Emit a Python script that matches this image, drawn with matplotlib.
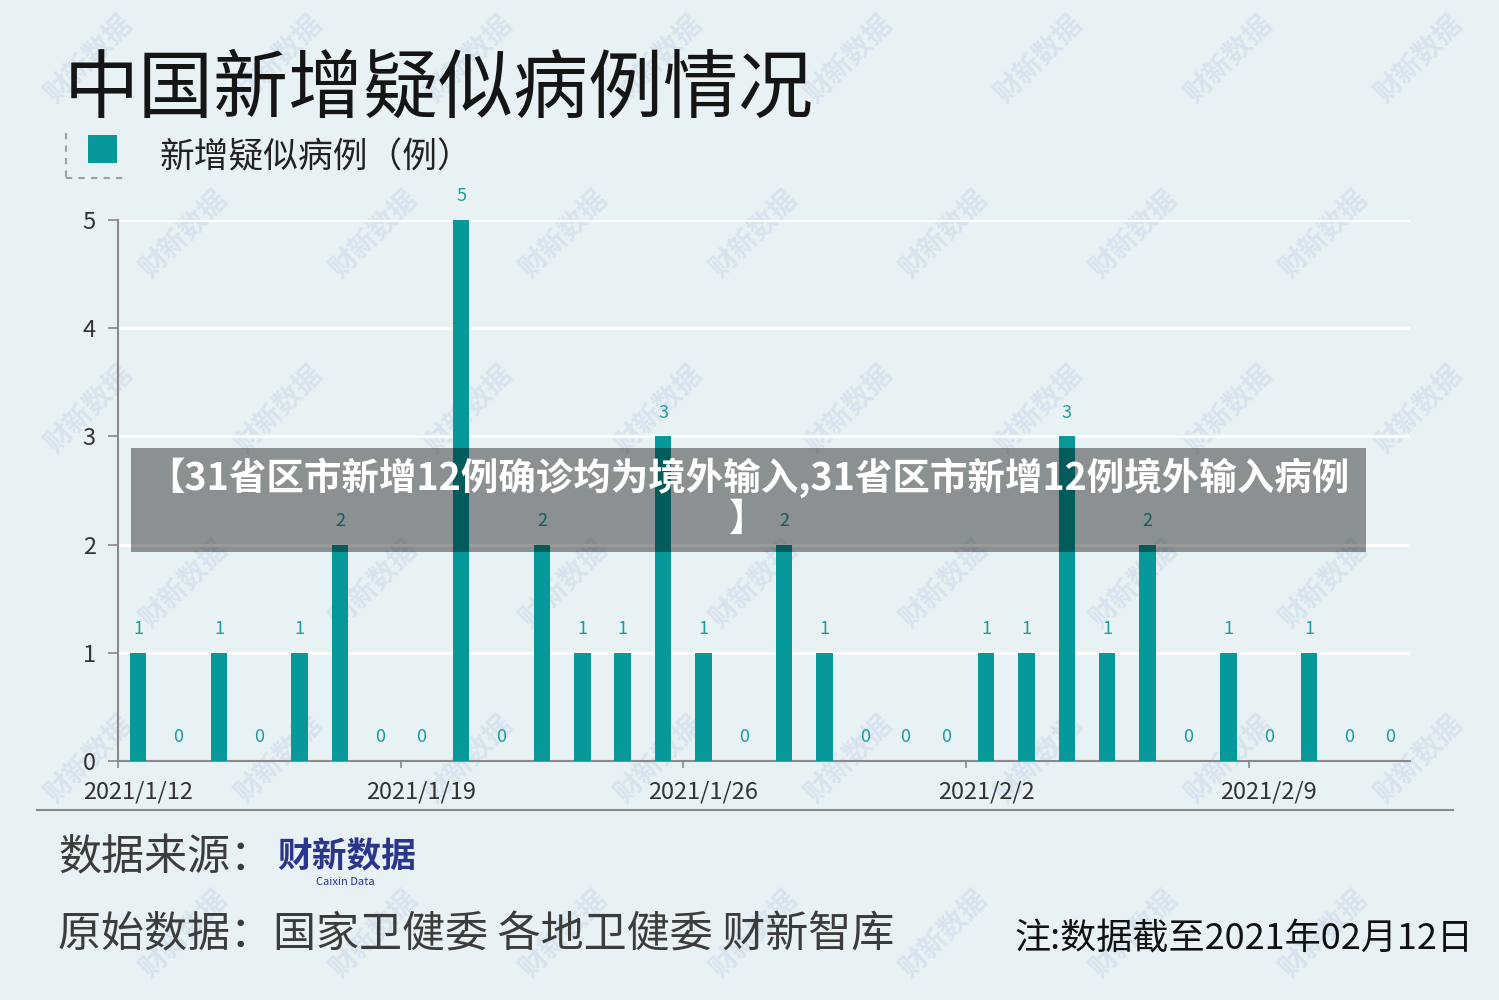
import pandas as pd
import matplotlib.pyplot as plt
from matplotlib.patches import Rectangle
from matplotlib.lines import Line2D

# 数据：2021/1/12 起每日新增疑似病例
start_date = "2021-01-12"
new_suspected = [1, 0, 1, 0, 1, 2, 0, 0, 5, 0, 2, 1, 1, 3, 1, 0,
                 2, 1, 0, 0, 0, 1, 1, 3, 1, 2, 0, 1, 0, 1, 0, 0]
label_every = 7

title = "中国新增疑似病例情况"
legend_label = "新增疑似病例（例）"
source_line = "数据来源："
raw_line = "原始数据：国家卫健委 各地卫健委 财新智库"
note_line = "注:数据截至2021年02月12日"
banner_text = "【31省区市新增12例确诊均为境外输入,31省区市新增12例境外输入病例\n】"

BG = "#e8f1f4"
TEAL = "#07999a"
TEAL_TXT = "#1f9d9d"

plt.rcParams['font.family'] = ['Noto Sans CJK SC', 'DejaVu Sans']

W, H = 1499, 1000


def px(x, y):
    # 像素坐标（左上为原点）-> figure 坐标
    return x / W, 1 - y / H


fig = plt.figure(figsize=(W / 100, H / 100), dpi=100, facecolor=BG)

# 水印（稀疏、淡色）
for row in range(0, 6):
    for col in range(0, 8):
        x = 90 + col * 190 + (row % 2) * 95
        y = 60 + row * 175
        if x > 1420 or y > 960:
            continue
        fx, fy = px(x, y)
        fig.text(fx, fy, "财新数据", rotation=45, fontsize=20, fontweight='bold',
                 color="#c9daec", alpha=0.55, ha='center', va='center', zorder=-5)

dates = pd.date_range(start_date, periods=len(new_suspected), freq="D")
xs = list(range(len(new_suspected)))

ax = fig.add_axes([118 / W, 1 - 761 / H, (1410 - 118) / W, (761 - 220) / H])
ax.set_facecolor("none")
ax.bar(xs, new_suspected, width=0.41, color=TEAL, zorder=3)
for x, v in zip(xs, new_suspected):
    ax.annotate(str(v), (x, v), xytext=(0, 17), textcoords='offset points',
                ha='center', va='center', fontsize=13, color=TEAL_TXT,
                annotation_clip=False)

ax.set_xlim(-0.5, len(new_suspected) - 0.5)
ax.set_ylim(0, 5)
ax.set_yticks(range(0, 6))
ax.yaxis.grid(True, color='white', linewidth=2.2, zorder=1)
ax.set_axisbelow(True)

tick_pos = xs[::label_every]
ax.set_xticks(tick_pos)
ax.set_xticklabels([f"{d.year}/{d.month}/{d.day}" for d in dates[::label_every]])
ax.set_xticks([p - 0.5 for p in tick_pos], minor=True)
ax.tick_params(axis='x', which='major', length=0, pad=14, labelsize=17, labelcolor='#333333')
ax.tick_params(axis='x', which='minor', length=5, width=1.2, color='#888888')
ax.tick_params(axis='y', length=7, width=1.2, color='#888888', pad=9,
               labelsize=17, labelcolor='#333333')

for s in ['top', 'right']:
    ax.spines[s].set_visible(False)
for s in ['left', 'bottom']:
    ax.spines[s].set_color('#8a8a8a')
    ax.spines[s].set_linewidth(1.5)

# 标题与图例
fig.text(*px(64, 90), title, fontsize=54, color='#151515', va='center', ha='left')
fig.patches.append(Rectangle(px(88, 163), 29 / W, 28 / H, transform=fig.transFigure,
                             facecolor=TEAL, edgecolor='none'))
fig.lines.append(Line2D([66 / W, 66 / W], [1 - 133 / H, 1 - 178 / H], transform=fig.transFigure,
                        color='#a0a0a0', linestyle=(0, (3, 3)), linewidth=1.5))
fig.lines.append(Line2D([66 / W, 127 / W], [1 - 178 / H, 1 - 178 / H], transform=fig.transFigure,
                        color='#a0a0a0', linestyle=(0, (3, 3)), linewidth=1.5))
fig.text(*px(160, 158), legend_label, fontsize=25, color='#222222', va='center', ha='left')

# 底部分隔线与注释
fig.lines.append(Line2D([37 / W, 1453 / W], [1 - 810 / H, 1 - 810 / H], transform=fig.transFigure,
                        color='#8a8a8a', linewidth=1.5))
fig.text(*px(58, 858), source_line, fontsize=31, color='#3c3c3c', va='center', ha='left')
fig.text(*px(347, 857), "财新数据", fontsize=25, fontweight='heavy', color='#2a358c',
         va='center', ha='center')
fig.text(*px(345, 882), "Caixin Data", fontsize=8, color='#2a358c', va='center', ha='center')
fig.text(*px(58, 935), raw_line, fontsize=31, color='#3c3c3c', va='center', ha='left')
fig.text(*px(1473, 940), note_line, fontsize=26, color='#111111', va='center', ha='right')

# 半透明横幅
fig.patches.append(Rectangle(px(131, 552), (1366 - 131) / W, (552 - 448) / H,
                             transform=fig.transFigure, facecolor='black', alpha=0.4,
                             edgecolor='none', zorder=5))
fig.text(*px(748, 498), banner_text, fontsize=27, fontweight='bold', color='white',
         ha='center', va='center', linespacing=1.05, zorder=6)

fig.savefig("out.png", dpi=100, facecolor=BG)
